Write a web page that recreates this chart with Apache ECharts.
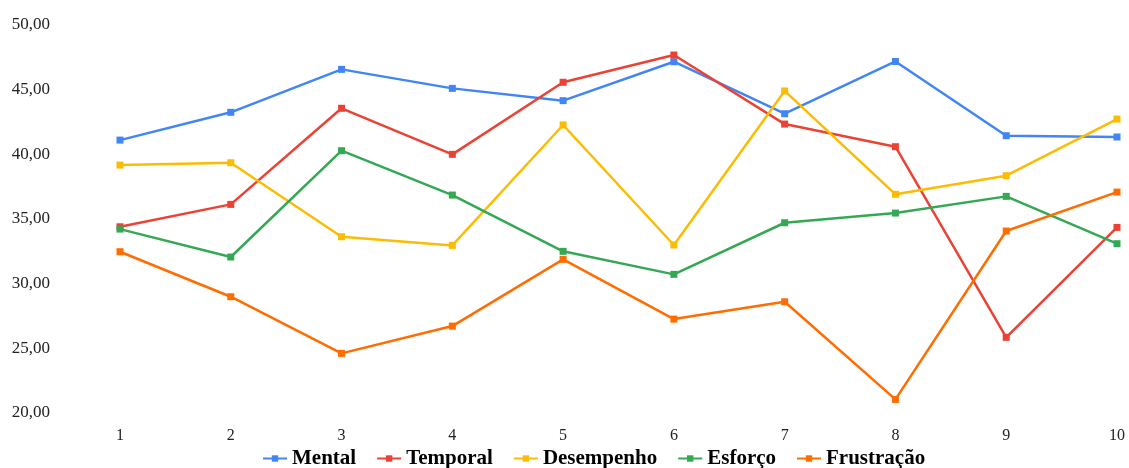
<!DOCTYPE html>
<html><head><meta charset="utf-8">
<script src="https://cdn.jsdelivr.net/npm/echarts@6/dist/echarts.min.js"></script>
<style>html,body{margin:0;padding:0;background:#fff}#c{width:1129px;height:468px}</style>
</head><body><div id="c"></div>
<script>
const categories = ['1','2','3','4','5','6','7','8','9','10'];
const mental = [41.1, 43.25, 46.57, 45.1, 44.15, 47.16, 43.14, 47.18, 41.44, 41.34];
const temporal = [34.4, 36.13, 43.56, 40.0, 45.57, 47.68, 42.34, 40.59, 25.85, 34.35];
const desempenho = [39.17, 39.35, 33.63, 32.96, 42.27, 32.99, 44.9, 36.91, 38.35, 42.73];
const esforco = [34.22, 32.06, 40.28, 36.85, 32.5, 30.72, 34.71, 35.46, 36.75, 33.09];
const frustracao = [32.47, 28.99, 24.61, 26.72, 31.88, 27.26, 28.6, 21.05, 34.07, 37.08];
const seriesNames = ['Mental','Temporal','Desempenho','Esforço','Frustração'];
const colors = ['#4285F4','#EA4335','#FBBC04','#34A853','#FF6D01'];
const dataSets = [mental, temporal, desempenho, esforco, frustracao];

const chart = echarts.init(document.getElementById('c'));
chart.setOption({
  animation: false,
  color: colors,
  grid: {left: 120, right: 12, top: 25, bottom: 55},
  legend: {
    top: 443, left: 257,
    itemWidth: 24, itemHeight: 8, itemGap: 20,
    textStyle: {fontFamily: 'Liberation Serif', fontSize: 21, fontWeight: 'bold', color: '#000'}
  },
  xAxis: {
    type: 'category', data: categories, boundaryGap: false,
    axisLine: {show: false}, axisTick: {show: false}, splitLine: {show: false},
    axisLabel: {margin: 15, fontFamily: 'Liberation Serif', fontSize: 16, color: '#222'}
  },
  yAxis: {
    type: 'value', min: 20, max: 50, interval: 5,
    axisLine: {show: false}, axisTick: {show: false}, splitLine: {show: false},
    axisLabel: {margin: 70, fontFamily: 'Liberation Serif', fontSize: 17, color: '#222',
      formatter: v => v.toFixed(2).replace('.', ',')}
  },
  series: dataSets.map((d, i) => ({
    name: seriesNames[i], type: 'line', data: d,
    symbol: 'rect', symbolSize: 7, showSymbol: true,
    lineStyle: {width: 2.5, color: colors[i]},
    itemStyle: {color: colors[i]}
  }))
});
</script></body></html>
